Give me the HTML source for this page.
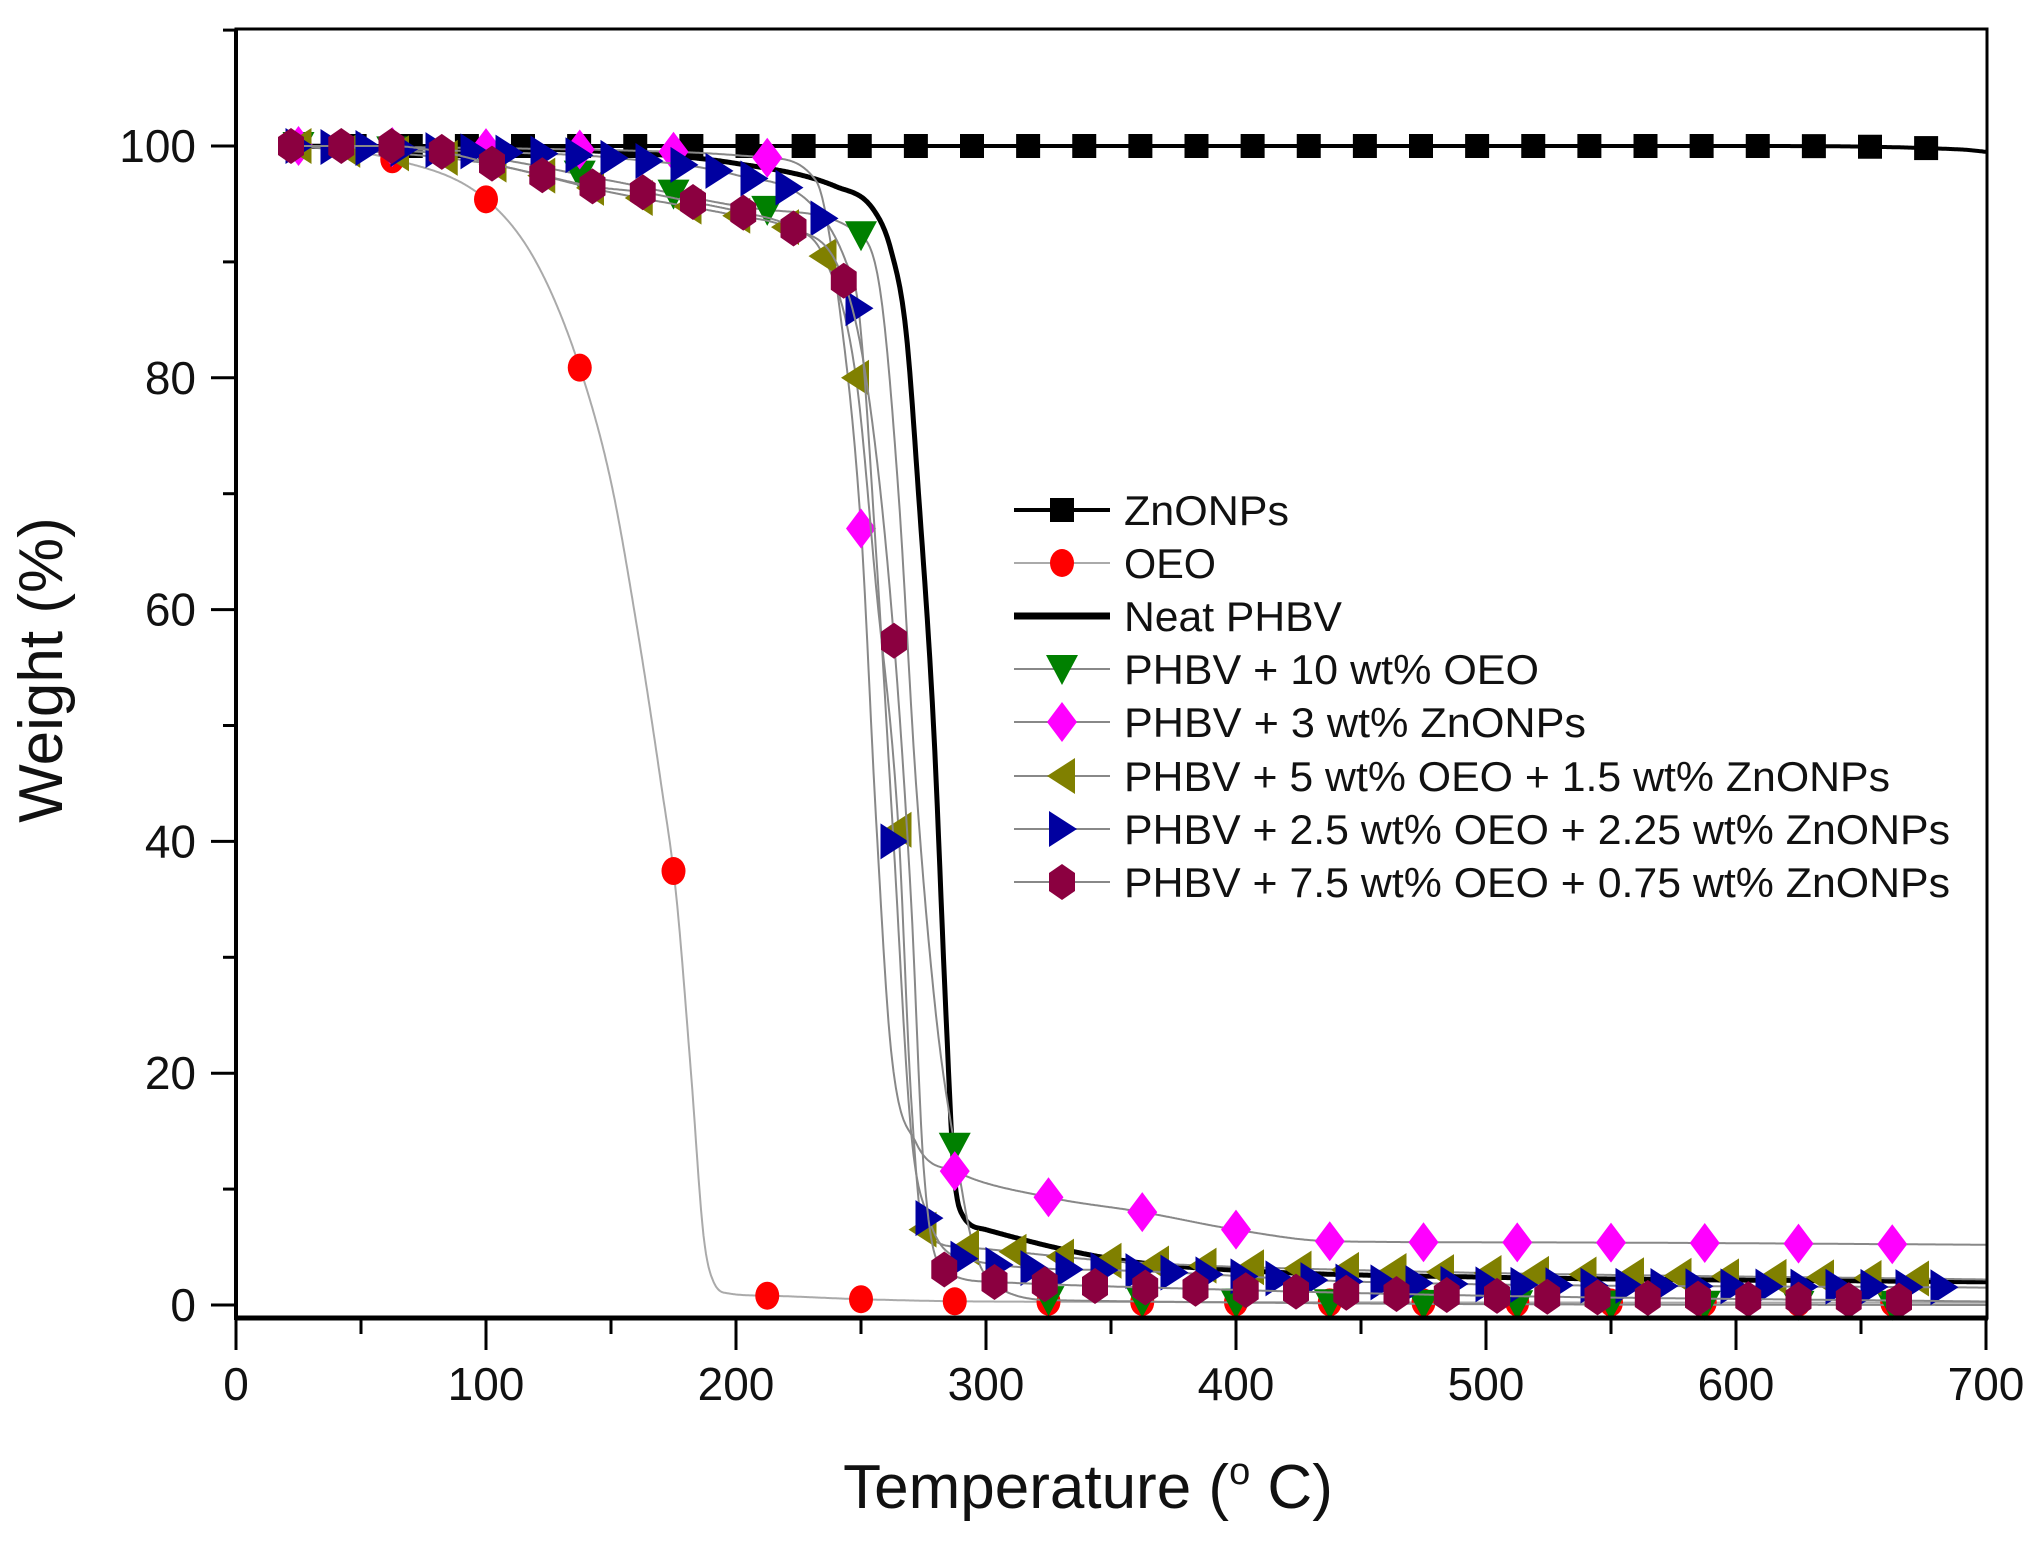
<!DOCTYPE html>
<html><head><meta charset="utf-8"><style>
html,body{margin:0;padding:0;background:#fff;}
svg{display:block;}
text{font-family:"Liberation Sans",Arial,sans-serif;fill:#111;}
</style></head><body>
<svg id="s" width="2044" height="1560" viewBox="0 0 2044 1560" xmlns="http://www.w3.org/2000/svg">
<rect x="0" y="0" width="2044" height="1560" fill="#fff"/>
<g id="plot"></g>
<g id="axes"></g>
<g id="legend"></g>
</svg>
<script>
const NS="http://www.w3.org/2000/svg";
const X=t=>236+2.5*t, Y=v=>1305-11.59*v;
function el(p,tag,a,txt){const e=document.createElementNS(NS,tag);for(const k in a)e.setAttribute(k,a[k]);if(txt!==undefined)e.textContent=txt;p.appendChild(e);return e;}
function interp(pts){const n=pts.length,xs=pts.map(p=>p[0]),ys=pts.map(p=>p[1]);const d=[],m=[];
for(let i=0;i<n-1;i++)d.push((ys[i+1]-ys[i])/(xs[i+1]-xs[i]));
m[0]=d[0];m[n-1]=d[n-2];for(let i=1;i<n-1;i++){m[i]=(d[i-1]*d[i]<=0)?0:(d[i-1]+d[i])/2;}
for(let i=0;i<n-1;i++){if(d[i]===0){m[i]=0;m[i+1]=0;continue;}const a=m[i]/d[i],b=m[i+1]/d[i],s=a*a+b*b;if(s>9){const t=3/Math.sqrt(s);m[i]=t*a*d[i];m[i+1]=t*b*d[i];}}
return x=>{if(x<=xs[0])return ys[0];if(x>=xs[n-1])return ys[n-1];let i=0;while(x>xs[i+1])i++;const h=xs[i+1]-xs[i],t=(x-xs[i])/h,t2=t*t,t3=t2*t;
return (2*t3-3*t2+1)*ys[i]+(t3-2*t2+t)*h*m[i]+(-2*t3+3*t2)*ys[i+1]+(t3-t2)*h*m[i+1];};}
const P=document.getElementById('plot');
function line(f,col,w){let d="";for(let t=25;t<=700;t+=0.5){d+=(t===25?"M":"L")+X(t).toFixed(1)+","+Y(f(t)).toFixed(1);}el(P,'path',{d:d,fill:'none',stroke:col,'stroke-width':w,'stroke-linejoin':'round'});}
function marker(g,type,x,y,c){
 if(type==='sq')el(g,'rect',{x:x-12,y:y-12,width:24,height:24,fill:c});
 else if(type==='ci')el(g,'ellipse',{cx:x,cy:y,rx:12,ry:14,fill:c});
 else if(type==='hx'){let p=[];for(let k=0;k<6;k++){const a=Math.PI/2+k*Math.PI/3;p.push((x+15*Math.cos(a)).toFixed(1)+","+(y+18*Math.sin(a)).toFixed(1));}el(g,'polygon',{points:p.join(" "),fill:c});}
 else if(type==='di')el(g,'polygon',{points:`${x},${y-20} ${x+15},${y} ${x},${y+20} ${x-15},${y}`,fill:c});
 else if(type==='dn')el(g,'polygon',{points:`${x-16},${y-14} ${x+16},${y-14} ${x},${y+16}`,fill:c});
 else if(type==='lt')el(g,'polygon',{points:`${x+13},${y-18} ${x+13},${y+18} ${x-15},${y}`,fill:c});
 else if(type==='rt')el(g,'polygon',{points:`${x-13},${y-18} ${x-13},${y+18} ${x+15},${y}`,fill:c});
}
function series(pts,col,w,type,mc,temps){const f=interp(pts);line(f,col,w);if(type){const g=el(P,'g',{});temps.forEach(t=>marker(g,type,X(t),Y(f(t)),mc));}}
function range(a,b,s){const r=[];for(let t=a;t<=b+0.01;t+=s)r.push(t);return r;}
series([[25,100],[600,100],[690,99.7],[700,99.5]],'#000',4,'sq','#000',range(25,690,22.45));
series([[25,100],[60,99],[100,95.4],[120,90],[137,81.2],[150,71],[160,59],[170,45],[176,35.5],[182,20],[187,6],[191,2],[197,1],[213,0.8],[250,0.5],[300,0.3],[700,0.2]],'#aaa',2,'ci','#ff0000',range(25,665,37.5));
series([[25,100],[150,99.5],[200,98.5],[240,96.5],[255,94.5],[262,91],[268,84],[273,70],[279,50],[284,25],[287,12],[290,8],[300,6.5],[350,4],[400,3],[500,2.4],[700,2]],'#000',5,null);
series([[25,100],[100,99],[150,97],[212,94.5],[250,92.3],[258,87],[265,70],[272,45],[280,25],[288,13],[295,5],[305,1.5],[330,0.4],[700,0]],'#888',2,'dn','#008000',range(25,665,37.5));
series([[25,100],[137,99.7],[175,99.5],[212,99],[232,97],[242,85],[250,67],[256,42],[262,22],[272,14],[288,11.5],[325,9.3],[363,8],[400,6.5],[438,5.5],[520,5.4],[700,5.2]],'#888',2,'di','#ff00ff',range(25,665,37.5));
series([[25,100],[100,98.5],[150,96],[200,94],[220,93],[235,90.5],[248,80],[256,62],[265,41],[270,18],[275,6.5],[290,5],[350,3.8],[450,3],[700,2.2]],'#888',2,'lt','#808000',range(25,226,19.5).concat([235,248,265,275]).concat(range(292,690,19)));
series([[25,100],[100,99.5],[150,99],[200,97.5],[230,95],[244,90],[249,86],[256,65],[263,40],[270,15],[277,7.5],[291,4],[350,3],[450,2],[700,1.5]],'#888',2,'rt','#0000a0',range(25,690,14));
series([[25,100],[62,100],[82,99.5],[102,98.5],[122,97.5],[143,96.5],[163,96],[182,95.2],[202,94.3],[222,93],[242,89],[252,80],[262,60.5],[270,35],[275,12],[282,3.3],[302,2],[400,1.3],[500,0.8],[700,0.3]],'#888',2,'hx','#8b0040',range(22,685,20.1));
const A=document.getElementById('axes');
el(A,'rect',{x:236,y:29,width:1751,height:1289,fill:'none',stroke:'#000','stroke-width':3});
el(A,'line',{x1:236,y1:1318,x2:1988,y2:1318,stroke:'#000','stroke-width':5});
el(A,'line',{x1:236,y1:29,x2:236,y2:1320,stroke:'#000','stroke-width':4});
for(let t=0;t<=700;t+=50){const x=X(t);el(A,'line',{x1:x,y1:1318,x2:x,y2:t%100===0?1350:1334,stroke:'#000','stroke-width':3});
 if(t%100===0)el(A,'text',{x:x,y:1400,'font-size':46,'text-anchor':'middle'},String(t));}
for(let v=0;v<=110;v+=10){const y=Y(v);if(y<30)continue;el(A,'line',{x1:236,y1:y,x2:v%20===0?211:223,y2:y,stroke:'#000','stroke-width':3});
 if(v%20===0&&v<=100)el(A,'text',{x:196,y:y+16,'font-size':46,'text-anchor':'end'},String(v));}
const tt=el(A,'text',{x:1088,y:1508,'font-size':62,'text-anchor':'middle'});
el(tt,'tspan',{},"Temperature (");el(tt,'tspan',{'font-size':38,dy:-24},"o");el(tt,'tspan',{dy:24},"\u00a0C)");
el(A,'text',{x:0,y:0,'font-size':62,'text-anchor':'middle',transform:'translate(62,670) rotate(-90)'},"Weight (%)");
const L=document.getElementById('legend');
const leg=[["ZnONPs",'#000',4,'sq','#000'],["OEO",'#aaa',2,'ci','#ff0000'],["Neat PHBV",'#000',7,null],["PHBV + 10 wt% OEO",'#888',2,'dn','#008000'],["PHBV + 3 wt% ZnONPs",'#888',2,'di','#ff00ff'],["PHBV + 5 wt% OEO + 1.5 wt% ZnONPs",'#888',2,'lt','#808000'],["PHBV + 2.5 wt% OEO + 2.25 wt% ZnONPs",'#888',2,'rt','#0000a0'],["PHBV + 7.5 wt% OEO + 0.75 wt% ZnONPs",'#888',2,'hx','#8b0040']];
const ly=[510,563,616,669,722,776,829,882];
const lw=[165,92,218,415,462,766,826,826];
leg.forEach((r,i)=>{const y=ly[i];el(L,'line',{x1:1014,y1:y,x2:1110,y2:y,stroke:r[1],'stroke-width':r[2]});if(r[3])marker(L,r[3],1062,y,r[4]);
 el(L,'text',{x:1124,y:y+15,'font-size':42,textLength:lw[i],lengthAdjust:'spacingAndGlyphs'},r[0]);});
</script>
</body></html>
